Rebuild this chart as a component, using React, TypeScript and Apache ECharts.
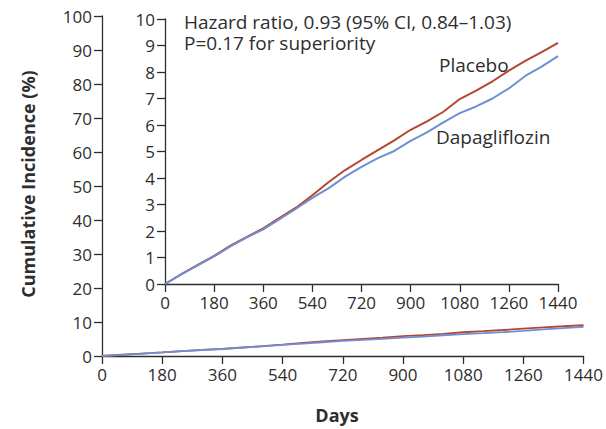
import React, { useEffect, useRef } from "react";
import * as echarts from "echarts";

const days = [0, 60, 120, 180, 240, 300, 360, 420, 480, 540, 600, 660, 720, 780, 840, 900, 960, 1020, 1080, 1140, 1200, 1260, 1320, 1380, 1440];
const placebo = [0, 0.37, 0.72, 1.06, 1.45, 1.78, 2.1, 2.5, 2.88, 3.35, 3.85, 4.3, 4.68, 5.05, 5.42, 5.82, 6.14, 6.5, 6.98, 7.3, 7.65, 8.05, 8.42, 8.75, 9.1];
const dapagliflozin = [0, 0.36, 0.7, 1.04, 1.42, 1.76, 2.06, 2.45, 2.84, 3.25, 3.62, 4.05, 4.42, 4.75, 5.02, 5.4, 5.72, 6.1, 6.45, 6.7, 7.0, 7.38, 7.85, 8.2, 8.6];

const RED = "#b4462f";
const BLUE = "#6f8fd4";
const AX = "#2e2e2e";
const FONT = "Open Sans";

export default function App() {
  const ref = useRef<HTMLDivElement>(null);
  useEffect(() => {
    const chart = echarts.init(ref.current!, null, { renderer: "svg" });
    const pl = days.map((d, i) => [d, placebo[i]]);
    const dp = days.map((d, i) => [d, dapagliflozin[i]]);
    const axisCommon = {
      axisLine: { show: true, lineStyle: { color: AX, width: 1.3 } },
      axisTick: { show: true, length: 8, lineStyle: { color: AX, width: 1.3 } },
      splitLine: { show: false },
      axisLabel: { color: AX, fontSize: 17, fontFamily: FONT, margin: 10, formatter: (v: number) => String(v) },
    };
    chart.setOption({
      animation: false,
      backgroundColor: "#ffffff",
      grid: [
        { left: 102, right: 22, top: 16, bottom: 73 },
        { left: 165, right: 48, top: 19, bottom: 145 },
      ],
      xAxis: [
        { ...axisCommon, type: "value", gridIndex: 0, min: 0, max: 1440, interval: 180 },
        { ...axisCommon, type: "value", gridIndex: 1, min: 0, max: 1440, interval: 180 },
      ],
      yAxis: [
        { ...axisCommon, type: "value", gridIndex: 0, min: 0, max: 100, interval: 10 },
        { ...axisCommon, type: "value", gridIndex: 1, min: 0, max: 10, interval: 1 },
      ],
      series: [
        { type: "line", xAxisIndex: 0, yAxisIndex: 0, data: pl, showSymbol: false, lineStyle: { color: RED, width: 1.8 }, z: 2 },
        { type: "line", xAxisIndex: 0, yAxisIndex: 0, data: dp, showSymbol: false, lineStyle: { color: BLUE, width: 1.8 }, z: 3 },
        { type: "line", xAxisIndex: 1, yAxisIndex: 1, data: pl, showSymbol: false, lineStyle: { color: RED, width: 2 }, z: 2 },
        { type: "line", xAxisIndex: 1, yAxisIndex: 1, data: dp, showSymbol: false, lineStyle: { color: BLUE, width: 2 }, z: 3 },
      ],
      graphic: [
        { type: "text", left: 184, top: 12, style: { text: "Hazard ratio, 0.93 (95% CI, 0.84–1.03)", fill: AX, fontSize: 19, lineHeight: 17, fontFamily: FONT } },
        { type: "text", left: 184, top: 33, style: { text: "P=0.17 for superiority", fill: AX, fontSize: 19, lineHeight: 17, fontFamily: FONT } },
        { type: "text", left: 439, top: 55, style: { text: "Placebo", fill: AX, fontSize: 19, lineHeight: 19, fontFamily: FONT } },
        { type: "text", left: 436, top: 127, style: { text: "Dapagliflozin", fill: AX, fontSize: 19, lineHeight: 19, fontFamily: FONT } },
        { type: "text", x: 28, y: 184, rotation: Math.PI / 2, style: { text: "Cumulative Incidence (%)", fill: AX, fontSize: 18, fontWeight: "bold", fontFamily: FONT, align: "center", verticalAlign: "middle" } },
        { type: "text", x: 337, y: 415, style: { text: "Days", fill: AX, fontSize: 18, fontWeight: "bold", fontFamily: FONT, align: "center", verticalAlign: "middle" } },
      ],
    });
    return () => chart.dispose();
  }, []);
  return <div ref={ref} style={{ position: "fixed", left: 0, top: 0, width: 606, height: 429 }} />;
}
